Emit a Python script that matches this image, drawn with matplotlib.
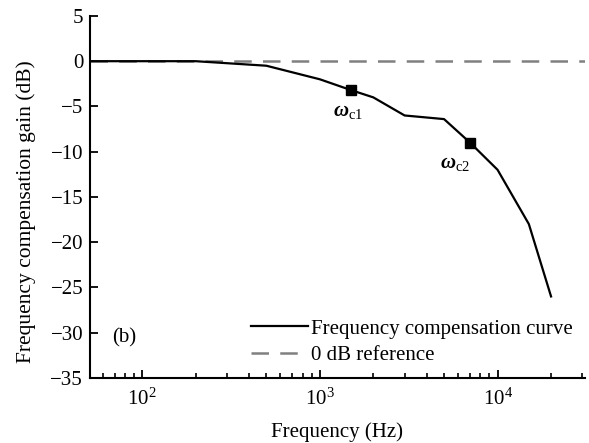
import numpy as np
import matplotlib
matplotlib.use('Agg')
import matplotlib.pyplot as plt
from matplotlib.ticker import LogLocator, NullFormatter

plt.rcParams['font.family'] = ['Liberation Serif', 'DejaVu Serif']
plt.rcParams['mathtext.fontset'] = 'custom'
plt.rcParams['mathtext.rm'] = 'Liberation Serif'
plt.rcParams['mathtext.it'] = 'Liberation Serif:italic'
plt.rcParams['mathtext.bf'] = 'Liberation Serif:italic:bold'

# data
freq = [50, 200, 500, 1000, 1500, 2000, 3000, 5000, 7000, 10000, 15000, 20000]
gain = [0, 0, -0.5, -2.0, -3.2, -4.0, -6.0, -6.4, -9.0, -12.0, -18.0, -26.0]
mark_freq = [1500, 7000]
mark_gain = [-3.2, -9.0]
mark_labels = [r'$\mathbf{\omega}_{\rm c1}$', r'$\mathbf{\omega}_{\rm c2}$']
ref_freq = [51, 31000]
ref_gain = [0, 0]

FS = 15

fig = plt.figure(figsize=(5.89, 4.43), dpi=100)
ax = fig.add_axes([0.153, 0.147, 0.84, 0.817])

ref_line, = ax.plot(ref_freq, ref_gain, color='#808080', lw=1.8, dashes=(7, 4.5),
                    label='0 dB reference', zorder=2)
curve, = ax.plot(freq, gain, color='black', lw=1.6,
                 label='Frequency compensation curve', zorder=3)
ax.plot(mark_freq, mark_gain, 's', color='black', ms=7, zorder=4)

ax.text(mark_freq[0] * 0.96, mark_gain[0] - 1.3, mark_labels[0], fontsize=FS,
        ha='center', va='top')
ax.text(mark_freq[1] * 0.82, mark_gain[1] - 1.3, mark_labels[1], fontsize=FS,
        ha='center', va='top')
ax.text(0.045, 0.11, '(b)', transform=ax.transAxes, fontsize=FS, va='center')

ax.set_xscale('log')
ax.set_xlim(51, 31000)
ax.set_ylim(-35, 5)
ax.set_yticks(np.arange(-35, 6, 5))
ax.xaxis.set_major_locator(LogLocator(base=10, numticks=10))
ax.xaxis.set_minor_locator(LogLocator(base=10, subs=np.arange(2, 10), numticks=10))
ax.xaxis.set_minor_formatter(NullFormatter())

for s in ['top', 'right']:
    ax.spines[s].set_visible(False)
for s in ['left', 'bottom']:
    ax.spines[s].set_linewidth(1.5)
ax.tick_params(which='major', direction='in', length=6, width=1.3, labelsize=FS)
ax.tick_params(which='minor', direction='in', length=3.5, width=1.2)
ax.tick_params(axis='x', pad=8)
ax.tick_params(axis='y', pad=5)

ax.set_xlabel('Frequency (Hz)', fontsize=FS, labelpad=9)
ax.set_ylabel('Frequency compensation gain (dB)', fontsize=15.5)
ax.yaxis.set_label_coords(-0.11, 0.46)

ax.legend([curve, ref_line], ['Frequency compensation curve', '0 dB reference'],
          loc='lower right', frameon=False, fontsize=FS, handlelength=2.7,
          handletextpad=0.15, labelspacing=0.35, borderaxespad=0.2,
          bbox_to_anchor=(1.0, 0.0))

fig.savefig('out.png', dpi=100)
